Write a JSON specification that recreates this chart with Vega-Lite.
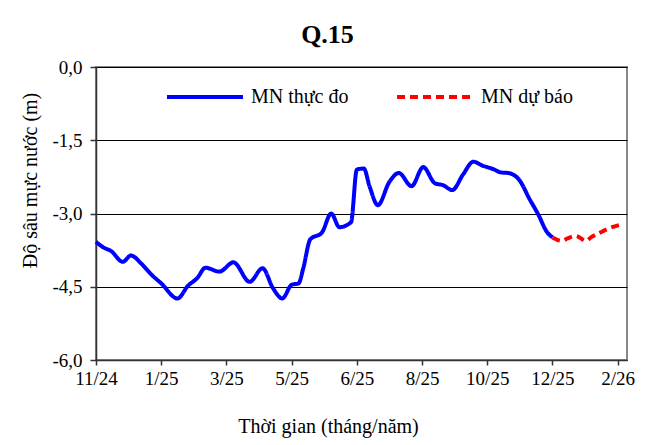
{
  "$schema": "https://vega.github.io/schema/vega-lite/v6.json",
  "width": 531,
  "height": 293,
  "autosize": {"type": "none"},
  "padding": {"left": 96, "top": 67, "right": 29, "bottom": 85},
  "background": "white",
  "title": {
    "text": "Q.15",
    "font": "'Liberation Serif', 'Times New Roman', serif",
    "fontSize": 26,
    "fontWeight": "bold",
    "color": "#000000",
    "anchor": "middle",
    "dx": -34,
    "offset": 9
  },
  "config": {
    "view": {"stroke": "#888888", "strokeWidth": 2},
    "axis": {
      "labelFont": "'Liberation Serif', 'Times New Roman', serif",
      "titleFont": "'Liberation Serif', 'Times New Roman', serif",
      "labelColor": "#000000",
      "titleColor": "#000000",
      "labelFontSize": 19,
      "titleFontSize": 20,
      "titleFontWeight": "normal",
      "domainColor": "#333333",
      "domainWidth": 1.5,
      "tickColor": "#333333",
      "tickWidth": 1.5
    }
  },
  "data": {
    "values": [
      {"date": "2024-11-14", "depth": -3.58, "series": "MN thực đo"},
      {"date": "2024-11-20", "depth": -3.69, "series": "MN thực đo"},
      {"date": "2024-11-27", "depth": -3.77, "series": "MN thực đo"},
      {"date": "2024-12-07", "depth": -3.99, "series": "MN thực đo"},
      {"date": "2024-12-14", "depth": -3.86, "series": "MN thực đo"},
      {"date": "2024-12-23", "depth": -4.03, "series": "MN thực đo"},
      {"date": "2025-01-01", "depth": -4.26, "series": "MN thực đo"},
      {"date": "2025-01-09", "depth": -4.43, "series": "MN thực đo"},
      {"date": "2025-01-23", "depth": -4.74, "series": "MN thực đo"},
      {"date": "2025-02-01", "depth": -4.48, "series": "MN thực đo"},
      {"date": "2025-02-09", "depth": -4.32, "series": "MN thực đo"},
      {"date": "2025-02-16", "depth": -4.11, "series": "MN thực đo"},
      {"date": "2025-02-28", "depth": -4.19, "series": "MN thực đo"},
      {"date": "2025-03-12", "depth": -4.00, "series": "MN thực đo"},
      {"date": "2025-03-26", "depth": -4.40, "series": "MN thực đo"},
      {"date": "2025-04-06", "depth": -4.12, "series": "MN thực đo"},
      {"date": "2025-04-15", "depth": -4.53, "series": "MN thực đo"},
      {"date": "2025-04-23", "depth": -4.74, "series": "MN thực đo"},
      {"date": "2025-05-01", "depth": -4.46, "series": "MN thực đo"},
      {"date": "2025-05-07", "depth": -4.43, "series": "MN thực đo"},
      {"date": "2025-05-11", "depth": -4.12, "series": "MN thực đo"},
      {"date": "2025-05-17", "depth": -3.53, "series": "MN thực đo"},
      {"date": "2025-05-27", "depth": -3.39, "series": "MN thực đo"},
      {"date": "2025-06-04", "depth": -3.00, "series": "MN thực đo"},
      {"date": "2025-06-11", "depth": -3.28, "series": "MN thực đo"},
      {"date": "2025-06-21", "depth": -3.18, "series": "MN thực đo"},
      {"date": "2025-06-26", "depth": -2.10, "series": "MN thực đo"},
      {"date": "2025-07-02", "depth": -2.08, "series": "MN thực đo"},
      {"date": "2025-07-07", "depth": -2.45, "series": "MN thực đo"},
      {"date": "2025-07-14", "depth": -2.83, "series": "MN thực đo"},
      {"date": "2025-07-24", "depth": -2.35, "series": "MN thực đo"},
      {"date": "2025-08-01", "depth": -2.17, "series": "MN thực đo"},
      {"date": "2025-08-12", "depth": -2.44, "series": "MN thực đo"},
      {"date": "2025-08-22", "depth": -2.05, "series": "MN thực đo"},
      {"date": "2025-09-01", "depth": -2.38, "series": "MN thực đo"},
      {"date": "2025-09-08", "depth": -2.42, "series": "MN thực đo"},
      {"date": "2025-09-16", "depth": -2.52, "series": "MN thực đo"},
      {"date": "2025-09-25", "depth": -2.21, "series": "MN thực đo"},
      {"date": "2025-10-04", "depth": -1.94, "series": "MN thực đo"},
      {"date": "2025-10-12", "depth": -2.02, "series": "MN thực đo"},
      {"date": "2025-10-21", "depth": -2.09, "series": "MN thực đo"},
      {"date": "2025-10-28", "depth": -2.16, "series": "MN thực đo"},
      {"date": "2025-11-03", "depth": -2.17, "series": "MN thực đo"},
      {"date": "2025-11-13", "depth": -2.33, "series": "MN thực đo"},
      {"date": "2025-11-21", "depth": -2.69, "series": "MN thực đo"},
      {"date": "2025-11-29", "depth": -3.03, "series": "MN thực đo"},
      {"date": "2025-12-06", "depth": -3.37, "series": "MN thực đo"},
      {"date": "2025-12-11", "depth": -3.49, "series": "MN thực đo"},
      {"date": "2025-12-11", "depth": -3.49, "series": "MN dự báo"},
      {"date": "2025-12-19", "depth": -3.56, "series": "MN dự báo"},
      {"date": "2025-12-24", "depth": -3.51, "series": "MN dự báo"},
      {"date": "2025-12-31", "depth": -3.46, "series": "MN dự báo"},
      {"date": "2026-01-09", "depth": -3.56, "series": "MN dự báo"},
      {"date": "2026-01-13", "depth": -3.49, "series": "MN dự báo"},
      {"date": "2026-01-21", "depth": -3.39, "series": "MN dự báo"},
      {"date": "2026-01-29", "depth": -3.30, "series": "MN dự báo"},
      {"date": "2026-02-09", "depth": -3.22, "series": "MN dự báo"}
    ]
  },
  "mark": {"type": "line", "interpolate": "monotone", "strokeWidth": 4, "strokeCap": "butt"},
  "encoding": {
    "x": {
      "field": "date",
      "type": "temporal",
      "scale": {
        "type": "utc",
        "domain": [
          {"year": 2024, "month": 11, "date": 14, "utc": true},
          {"year": 2026, "month": 2, "date": 13, "utc": true}
        ]
      },
      "axis": {
        "values": [
          {"year": 2024, "month": 11, "date": 14, "utc": true},
          {"year": 2025, "month": 1, "date": 9, "utc": true},
          {"year": 2025, "month": 3, "date": 6, "utc": true},
          {"year": 2025, "month": 5, "date": 1, "utc": true},
          {"year": 2025, "month": 6, "date": 26, "utc": true},
          {"year": 2025, "month": 8, "date": 21, "utc": true},
          {"year": 2025, "month": 10, "date": 16, "utc": true},
          {"year": 2025, "month": 12, "date": 11, "utc": true},
          {"year": 2026, "month": 2, "date": 5, "utc": true}
        ],
        "format": "%-m/%y",
        "title": "Thời gian (tháng/năm)",
        "grid": false,
        "tickSize": 5,
        "labelPadding": 4,
        "labelFlush": false,
        "labelOverlap": false,
        "titleX": 232,
        "titleY": 56,
        "titleAnchor": "middle"
      }
    },
    "y": {
      "field": "depth",
      "type": "quantitative",
      "scale": {"domain": [-6, 0], "nice": false, "zero": false},
      "axis": {
        "values": [-6, -4.5, -3, -1.5, 0],
        "labelExpr": "(datum.value < 0 ? '-' : '') + replace(format(abs(datum.value), '.1f'), '.', ',')",
        "title": "Độ sâu mực nước (m)",
        "grid": true,
        "gridColor": "#000000",
        "gridWidth": 1,
        "tickSize": 6,
        "labelPadding": 8,
        "titleX": -66,
        "titleY": 113,
        "titleAngle": -90,
        "titleAlign": "center",
        "titleBaseline": "middle"
      }
    },
    "color": {
      "field": "series",
      "type": "nominal",
      "scale": {"domain": ["MN thực đo", "MN dự báo"], "range": ["#0000FF", "#FF0000"]},
      "legend": {
        "title": null,
        "orient": "none",
        "direction": "horizontal",
        "legendX": 69,
        "legendY": -10,
        "padding": 0,
        "symbolType": "stroke",
        "symbolSize": 5776,
        "symbolStrokeWidth": 4,
        "labelFont": "'Liberation Serif', 'Times New Roman', serif",
        "labelFontSize": 20,
        "labelColor": "#000000",
        "labelOffset": 6,
        "columnPadding": 40,
        "labelLimit": 200
      }
    },
    "strokeDash": {
      "field": "series",
      "type": "nominal",
      "scale": {"domain": ["MN thực đo", "MN dự báo"], "range": [[1, 0], [8, 5]]},
      "legend": null
    }
  }
}
